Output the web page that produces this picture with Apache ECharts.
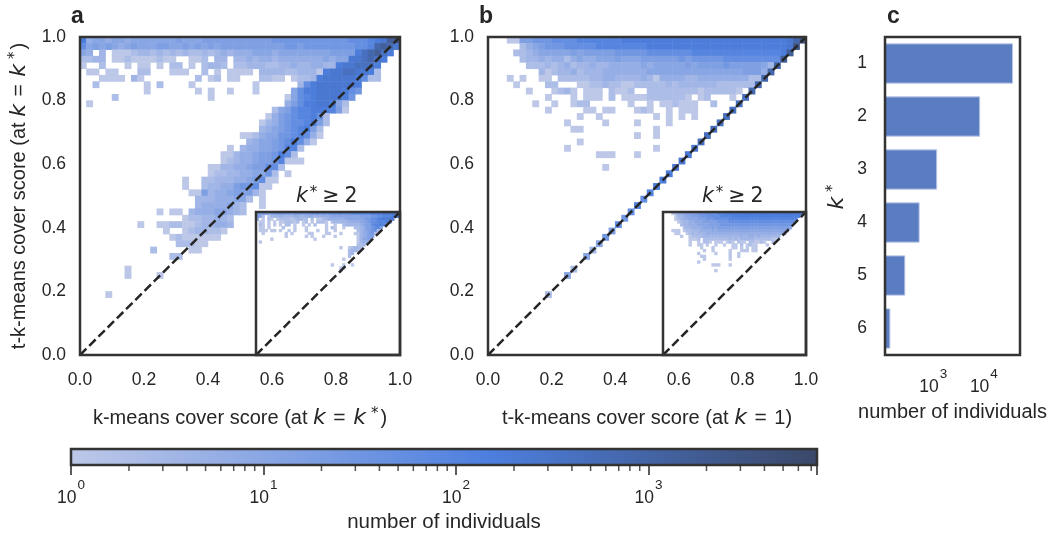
<!DOCTYPE html>
<html><head><meta charset="utf-8">
<style>html,body{margin:0;padding:0;background:#fff}#c{width:1055px;height:539px}</style>
<script src="https://cdn.jsdelivr.net/npm/echarts@6/dist/echarts.min.js"></script>
</head><body><div id="c"></div>
<script>
// level key -> number of individuals in a 2-D bin
const levelKeys = '123456789abcdefg';
const levelCounts = [1,2,3,5,8,12,20,35,60,100,160,300,600,1200,2500,6000];
const colorStops = ['#bdc8e8','#4d7fdf','#3a4868'];
const colorMid = 0.56;
const colorbarMax = 7500;
const scoreTicks = [0,0.2,0.4,0.6,0.8,1];
const kLabels = ['1','2','3','4','5','6'];
const kCounts = [37600,8450,1200,540,282,143];
const colorbarMinor = [2,3,4,5,6,7,8,9,20,30,40,50,60,70,80,90,200,300,400,500,600,700,800,900,2000,3000,4000,5000,6000,7000];

// rows from the top; each row: [startColumn, levelString] runs
const panelARows = [
[[0,"a455455455"],[10,"5555565556"],[20,"6666666666"],[30,"7777777777"],[40,"7788"],[44,"89abef"]],
[[0,"8565654565"],[10,"5566556565"],[20,"6566666666"],[30,"6677677777"],[40,"777889"],[46,"dedb"]],
[[0,"54.3.111"],[8,"2332323"],[15,"2322323"],[22,"4344455"],[29,"5455555"],[36,"5556666"],[43,"acdeca"]],
[[0,"2233."],[5,"1121111211"],[17,"112"],[21,"33"],[24,"3343443"],[31,"4444444"],[38,"5455"],[42,"bbcdca"]],
[[0,"1"],[3,"2"],[7,"1"],[9,"11"],[12,"1"],[14,"22.1"],[19,"2332"],[24,"2233322"],[31,"3343344"],[38,"33"],[40,"abbccca"]],
[[1,"11"],[4,"11"],[9,"22"],[14,"111"],[19,"2"],[21,"1"],[23,"1111"],[28,"333"],[31,"322"],[34,"3331"],[38,"abbccbb"],[45,"a2"]],
[[3,"1111"],[8,"31"],[18,"2"],[20,"12"],[23,"11"],[28,"22"],[30,"11"],[33,"1223"],[37,"abbbbba"],[44,"822"]],
[[2,"2"],[10,"1"],[12,"2"],[17,"1"],[27,"1"],[34,"3"],[35,"8abbbbbba"]],
[[10,"1"],[18,"1"],[20,"1"],[23,"1"],[27,"1"],[33,"58aabbbba87"]],
[[5,"2"],[20,"1"],[32,"1589abbbba7"]],
[[1,"1"],[32,"468aabba52"]],
[[30,"256899aaa961"]],
[[29,"1467899a82"]],
[[28,"13467889a62"]],
[[28,"3456789a62"]],
[[25,"1124557789841"]],
[[26,"3455678a841"]],
[[23,"1"],[25,"3445567992"]],
[[22,"11"],[24,"3445667a82"]],
[[22,"1234456679111"]],
[[20,"11"],[22,"3344566882"]],
[[20,"1223344557"],[30,"2"],[32,"1"]],
[[16,"1"],[19,"2233344568"],[29,"11"]],
[[16,"1"],[19,"233446778"],[28,"11"]],
[[17,"11"],[19,"634456663"],[28,"1"]],
[[18,"33344455"],[26,"2"],[28,"1"]],
[[18,"344445"],[24,"32"],[28,"1"]],
[[12,"1"],[14,"11"],[17,"344455432"]],
[[16,"1"],[17,"2233432"]],
[[9,"1"],[12,"11"],[14,"22"],[16,"1"],[17,"1233443"]],
[[13,"1"],[16,"1233221"]],
[[14,"12"],[16,"1111"],[20,"11"]],
[[15,"222"],[18,"11"]],
[[11,"2"],[17,"11"]],
[[14,"22"]],
[],
[[7,"1"]],
[[7,"1"],[12,"1"]],
[],[],
[[4,"1"]]
];
const panelBRows = [
[[3,"11"],[5,"6677788889"],[15,"999999aaaa"],[25,"aaaaaaaaaa"],[35,"aaaaaaaaaa"],[45,"aabd"]],
[[5,"2456777888"],[15,"8899999999"],[25,"aaaaaaaaaa"],[35,"aaaaaaaaaa"],[45,"aab"]],
[[4,"22"],[6,"3455555"],[13,"6566666"],[20,"7777788"],[27,"8888899"],[34,"9999999"],[41,"99999a"]],
[[5,"2"],[6,"3343442"],[13,"4544555"],[20,"6555666"],[27,"6667677"],[34,"7778888"],[41,"88888"]],
[[6,"2223"],[10,"2342334"],[17,"3344444"],[24,"5455555"],[31,"6566667"],[38,"666665"],[44,"3"]],
[[8,"3123342"],[15,"3334444"],[22,"4445555"],[29,"5555555"],[36,"5555666"],[43,"4"]],
[[3,"1"],[5,"1"],[8,"11"],[11,"222223"],[17,"3443333"],[24,"4314444"],[31,"3344444"],[38,"44422"]],
[[4,"1"],[9,"22"],[14,"11223"],[19,"2211222"],[26,"2232333"],[33,"3332222"],[40,"22"]],
[[6,"1"],[10,"1231"],[15,"111"],[19,"2"],[20,"112"],[25,"2222"],[29,"2222"],[33,"1222"],[37,"22"],[39,"1"]],
[[9,"1"],[13,"1"],[15,"111"],[19,"2"],[21,"1111222"],[28,"2221"],[33,"12"],[38,"1"]],
[[7,"1"],[10,"1"],[13,"122"],[22,"1"],[25,"1"],[27,"1121"],[31,"11"],[35,"2"]],
[[9,"1"],[15,"11"],[18,"11"],[23,"121"],[28,"1"],[30,"111"]],
[[14,"1"],[17,"1"],[26,"1"],[28,"1"],[30,"1"],[32,"1"]],
[[12,"1"],[18,"1"],[23,"1"],[28,"1"]],
[[13,"11"],[26,"1"]],
[[23,"1"],[26,"1"]],
[[14,"1"]],
[[12,"1"],[26,"1"]],
[[17,"111"],[23,"1"]],
[],
[[18,"1"]]
];
// panel b diagonal, one key per column (t-k-means score equals k-means score)
const panelBDiagonal = ".........2..52.5357687898 9aaabbbbcccccccc ddddd eeffg".replace(/ /g,'');
const insetARows = [
[[0,"6676667777"],[10,"7767777778"],[20,"8878788889"],[30,"8889999999"],[40,"aaaabbbbcc"]],
[[0,"652.1"],[5,"3334333"],[12,"3443344"],[19,"4344444"],[26,"5555555"],[33,"5556666"],[40,"7788999aaa"]],
[[0,"4.1.2"],[5,"1.122"],[10,"2212332"],[17,"2.2.112"],[24,"3444444"],[31,"5555556"],[38,"77889aaabb"]],
[[1,"11.1."],[6,"1.112"],[11,"2212.1"],[17,"2.1.222"],[24,"1.23333"],[31,"3444455"],[38,"6788999"],[45,"a8"]],
[[1,"21"],[4,"1"],[6,"1"],[8,"1"],[10,"22"],[13,"1"],[16,"1"],[18,"1"],[20,"2"],[24,"1"],[27,"1"],[30,"233333"],[36,"4566899"],[43,"a9"]],
[[1,"11"],[4,"1"],[9,"2"],[13,"1"],[17,"1"],[24,"1"],[26,"21"],[30,"1"],[34,"22"],[36,"3466789"],[43,"6"]],
[[1,"111"],[5,"11"],[8,"1"],[11,"1"],[13,"1"],[17,"1"],[21,"1"],[24,"1"],[27,"1"],[35,"2"],[36,"3456782"]],
[[2,"1"],[10,"1"],[12,"1"],[18,"11"],[24,"11"],[29,"1"],[34,"11"],[36,"345672"]],
[[10,"1"],[17,"1"],[19,"1"],[23,"1"],[27,"1"],[35,"1"],[36,"34566"]],
[[5,"1"],[20,"1"],[35,"1"],[36,"3556"]],
[[1,"1"],[35,"1"],[36,"344"]],
[[35,"223"]],
[[29,"1"],[32,"12332"]],
[[32,"2332"]],
[[32,"23"]],
[[32,"2"]],
[[30,"1"]],
[],
[[26,"1"],[30,"1"],[33,"1"]],
[[29,"11"]],
[[29,"1"]]
];
const insetBRows = [
[[3,"12"],[5,"445566"],[11,"677788"],[17,"88999a"],[23,"aaaaaa"],[29,"aaaaaa"],[35,"aaaaaa"],[41,"aaaaaaa"],[48,"b"]],
[[4,"1"],[5,"3345566"],[12,"677788"],[18,"889999"],[24,"aaaaaa"],[30,"aaaaaa"],[36,"aaaaaa"],[42,"aaaaaa"]],
[[4,"12"],[6,"3445556"],[13,"667778"],[19,"888899"],[25,"999999"],[31,"999999"],[37,"999999"],[43,"9999"]],
[[5,"123344"],[11,"555666"],[17,"667777"],[23,"888888"],[29,"888888"],[35,"888888"],[41,"88888"]],
[[6,"23344"],[11,"455556"],[17,"666777"],[23,"777777"],[29,"777777"],[35,"777777"],[41,"7777"]],
[[7,"23344"],[12,"445556"],[18,"566666"],[24,"666666"],[30,"666666"],[36,"666666"],[42,"665"]],
[[3,"111"],[7,"12233"],[12,"344445"],[18,"455555"],[24,"555555"],[30,"555555"],[36,"555555"],[42,"54"]],
[[4,"11"],[8,"123"],[11,"233344"],[17,"444444"],[23,"444444"],[29,"444444"],[35,"444444"],[41,"44"]],
[[6,"1"],[9,"122"],[12,"223333"],[18,"333333"],[24,"333433"],[30,"443433"],[36,"33333"]],
[[9,"1"],[10,"112"],[14,"222222"],[20,"222323"],[26,"233333"],[32,"222222"],[38,"11"]],
[[9,"1"],[12,"1"],[14,"221"],[18,"111"],[22,"121"],[26,"211"],[30,"221"],[33,"121"],[38,"2"]],
[[9,"1"],[12,"11"],[15,"1"],[18,"1"],[21,"1"],[24,"11"],[27,"2"],[29,"121"],[32,"1"],[36,"1"]],
[[13,"1"],[17,"1"],[24,"11"],[27,"1"],[29,"1"],[31,"1"],[32,"1"]],
[[14,"1"],[17,"1"],[23,"1"],[27,"1"],[28,"1"],[29,"1"],[31,"11"]],
[[12,"1"],[18,"1"],[23,"1"],[26,"1"]],
[[13,"11"],[23,"1"],[26,"1"]],
[[14,"1"],[23,"1"]],
[[12,"1"]],
[[17,"111"],[23,"1"]],
[],
[[18,"1"]]
];

const BINS = 50;
const binNames = Array.from({length:BINS},(_,i)=>String(i));
const ink = '#262626';
const sans = '"Liberation Sans", Arial, sans-serif';
const math = '"DejaVu Sans", sans-serif';

function cells(rows){
  const out=[];
  rows.forEach((runs,r)=>runs.forEach(([start,keys])=>{
    [...keys].forEach((ch,i)=>{
      const lv=levelKeys.indexOf(ch);
      if(lv>=0) out.push([start+i,BINS-1-r,Math.log10(levelCounts[lv])]);
    });
  }));
  return out;
}
function diagonalCells(keys){
  const out=[];
  [...keys].forEach((ch,c)=>{
    const lv=levelKeys.indexOf(ch);
    if(lv>=0) out.push([c,c,Math.log10(levelCounts[lv])]);
  });
  return out;
}

const grids=[],xAxes=[],yAxes=[],series=[],heatIdx=[];
function panel(rect,data,showLabels,names){
  const h=grids.length;
  grids.push({...rect,show:false,containLabel:false});
  xAxes.push({type:'category',gridIndex:h,data:binNames,show:false});
  yAxes.push({type:'category',gridIndex:h,data:binNames,show:false});
  heatIdx.push(series.length);
  series.push({type:'heatmap',xAxisIndex:h,yAxisIndex:h,data,z:2,emphasis:{disabled:true},progressive:0,animation:false});
  const v=grids.length;
  grids.push({...rect,show:true,z:5,backgroundColor:'transparent',borderColor:'#333',borderWidth:2.5});
  const lab={show:showLabels,color:ink,fontFamily:sans,fontSize:17.5,margin:16,
             formatter:x=>x.toFixed(1),showMinLabel:true,showMaxLabel:true};
  const xa={type:'value',gridIndex:v,min:0,max:1,interval:0.2,axisLine:{show:false},axisTick:{show:false},splitLine:{show:false},axisLabel:lab};
  const ya={type:'value',gridIndex:v,min:0,max:1,interval:0.2,axisLine:{show:false},axisTick:{show:false},splitLine:{show:false},
    axisLabel:{...lab,margin:14,padding:[3,0,0,0]}};
  if(names&&names.x) Object.assign(xa,names.x);
  if(names&&names.y) Object.assign(ya,names.y);
  xAxes.push(xa); yAxes.push(ya);
  series.push({type:'line',xAxisIndex:v,yAxisIndex:v,data:[[0,0],[1,1]],symbol:'none',z:4,silent:true,
    lineStyle:{color:ink,width:2.5,type:[9,4]}});
}
const nameRich={i:{fontFamily:math,fontStyle:'italic',fontSize:22,color:ink},
  sup:{fontFamily:math,fontStyle:'normal',fontSize:15,color:ink,verticalAlign:'top',lineHeight:16,padding:[0,2,6,5]},
  m:{fontFamily:sans,fontSize:21,color:ink,padding:[0,2,0,2]}};
const nameStyle={color:ink,fontFamily:sans,fontSize:20,rich:nameRich};
const xName=(t)=>({name:t,nameLocation:'middle',nameGap:52,nameTextStyle:nameStyle});
panel({left:80,top:37,width:320,height:318},cells(panelARows),true,{
  x:xName('k-means cover score (at {i|k} {m|=} {i|k}{sup|*})'),
  y:{name:'t-k-means cover score (at {i|k} {m|=} {i|k}{sup|*})',nameLocation:'middle',nameGap:50,nameTextStyle:nameStyle}});
panel({left:256,top:212,width:144,height:143},cells(insetARows),false);
panel({left:488,top:37,width:318,height:318},cells(panelBRows).concat(diagonalCells(panelBDiagonal)),true,{
  x:xName('t-k-means cover score (at {i|k} {m|=} 1)')});
panel({left:663,top:212,width:143,height:143},cells(insetBRows),false);

// panel c
const powerLabel=v=>{
  const e=Math.round(Math.log10(v));
  return Math.abs(Math.pow(10,e)-v)<1e-6*v?'{b|10}{sup|'+e+'}':'';
};
const powRich={b:{fontSize:17.5,fontFamily:sans,color:ink,verticalAlign:'bottom'},
  sup:{fontSize:13.5,verticalAlign:'top',padding:[0,0,15,1],color:ink,fontFamily:sans}};
const cIdx=grids.length;
grids.push({left:885,top:37,width:135,height:318,show:true,z:5,backgroundColor:'transparent',borderColor:'#333',borderWidth:2.5});
xAxes.push({type:'log',logBase:10,gridIndex:cIdx,min:112,max:51600,axisLine:{show:false},axisTick:{show:false},splitLine:{show:false},
  axisLabel:{color:ink,fontFamily:sans,fontSize:17.5,margin:12,formatter:powerLabel,rich:powRich},
  name:'number of individuals',nameLocation:'middle',nameGap:47,nameTextStyle:{color:ink,fontFamily:sans,fontSize:20}});
yAxes.push({type:'category',gridIndex:cIdx,data:kLabels,inverse:true,axisLine:{show:false},axisTick:{show:false},splitLine:{show:false},
  axisLabel:{color:ink,fontFamily:sans,fontSize:17.5,margin:18,padding:[5,0,0,0]},
  name:'{i|k}{sup|*}',nameLocation:'middle',nameGap:37,nameTextStyle:{...nameStyle,fontSize:22}});
series.push({type:'bar',xAxisIndex:cIdx,yAxisIndex:cIdx,data:kCounts,barWidth:'76%',z:2,
  itemStyle:{color:'#5a7cc0',borderColor:'#b9c7e6',borderWidth:1},silent:true});

// colour bar
const bIdx=grids.length;
grids.push({left:71,top:449,width:746,height:16,show:true,z:5,backgroundColor:'transparent',borderColor:'#333',borderWidth:2.5});
xAxes.push({type:'log',logBase:10,gridIndex:bIdx,min:1,max:colorbarMax,axisLine:{show:false},
  axisTick:{show:true,length:10,lineStyle:{color:ink,width:1.5}},splitLine:{show:false},
  axisLabel:{color:ink,fontFamily:sans,fontSize:17.5,margin:13,formatter:powerLabel,rich:powRich},
  name:'number of individuals',nameLocation:'middle',nameGap:47,nameTextStyle:{color:ink,fontFamily:sans,fontSize:20.5}});
yAxes.push({type:'value',gridIndex:bIdx,min:0,max:1,show:false});
series.push({type:'line',xAxisIndex:bIdx,yAxisIndex:bIdx,data:[[1,1],[colorbarMax,1]],symbol:'none',silent:true,z:2,
  lineStyle:{width:0},
  areaStyle:{opacity:1,origin:'start',color:new echarts.graphic.LinearGradient(0,0,1,0,[
    {offset:0,color:colorStops[0]},{offset:colorMid,color:colorStops[1]},{offset:1,color:colorStops[2]}])}});
series.push({type:'scatter',xAxisIndex:bIdx,yAxisIndex:bIdx,data:colorbarMinor.map(v=>[v,0]),symbol:'rect',
  symbolSize:[1.5,6],symbolOffset:[0,3],clip:false,silent:true,z:6,itemStyle:{color:ink}});

const letter=(t,left)=>({text:t,left,top:5,padding:0,textStyle:{fontFamily:sans,fontWeight:'bold',fontSize:23,color:ink}});
const insetTitle=(left)=>({text:'{i|k}{sup|*} {n|≥} {n|2}',left,top:186,padding:0,textStyle:{fontWeight:'normal',rich:{
  i:{fontFamily:math,fontStyle:'italic',fontWeight:'normal',fontSize:20.5,color:ink},
  sup:{fontFamily:math,fontWeight:'normal',fontSize:15,color:ink,verticalAlign:'top',lineHeight:16,padding:[0,0,8,2]},
  n:{fontFamily:math,fontWeight:'normal',fontSize:20.5,color:ink}}}});

const chart=echarts.init(document.getElementById('c'),null,{renderer:'canvas'});
chart.setOption({
  animation:false,backgroundColor:'#fff',
  title:[letter('a',71),letter('b',479),letter('c',887),insetTitle(296),insetTitle(702)],
  grid:grids,xAxis:xAxes,yAxis:yAxes,
  visualMap:{type:'continuous',show:false,min:0,max:Math.log10(colorbarMax),dimension:2,seriesIndex:heatIdx,
    inRange:{color:[colorStops[0],colorStops[1],colorStops[2]]}},
  series
});
</script></body></html>
